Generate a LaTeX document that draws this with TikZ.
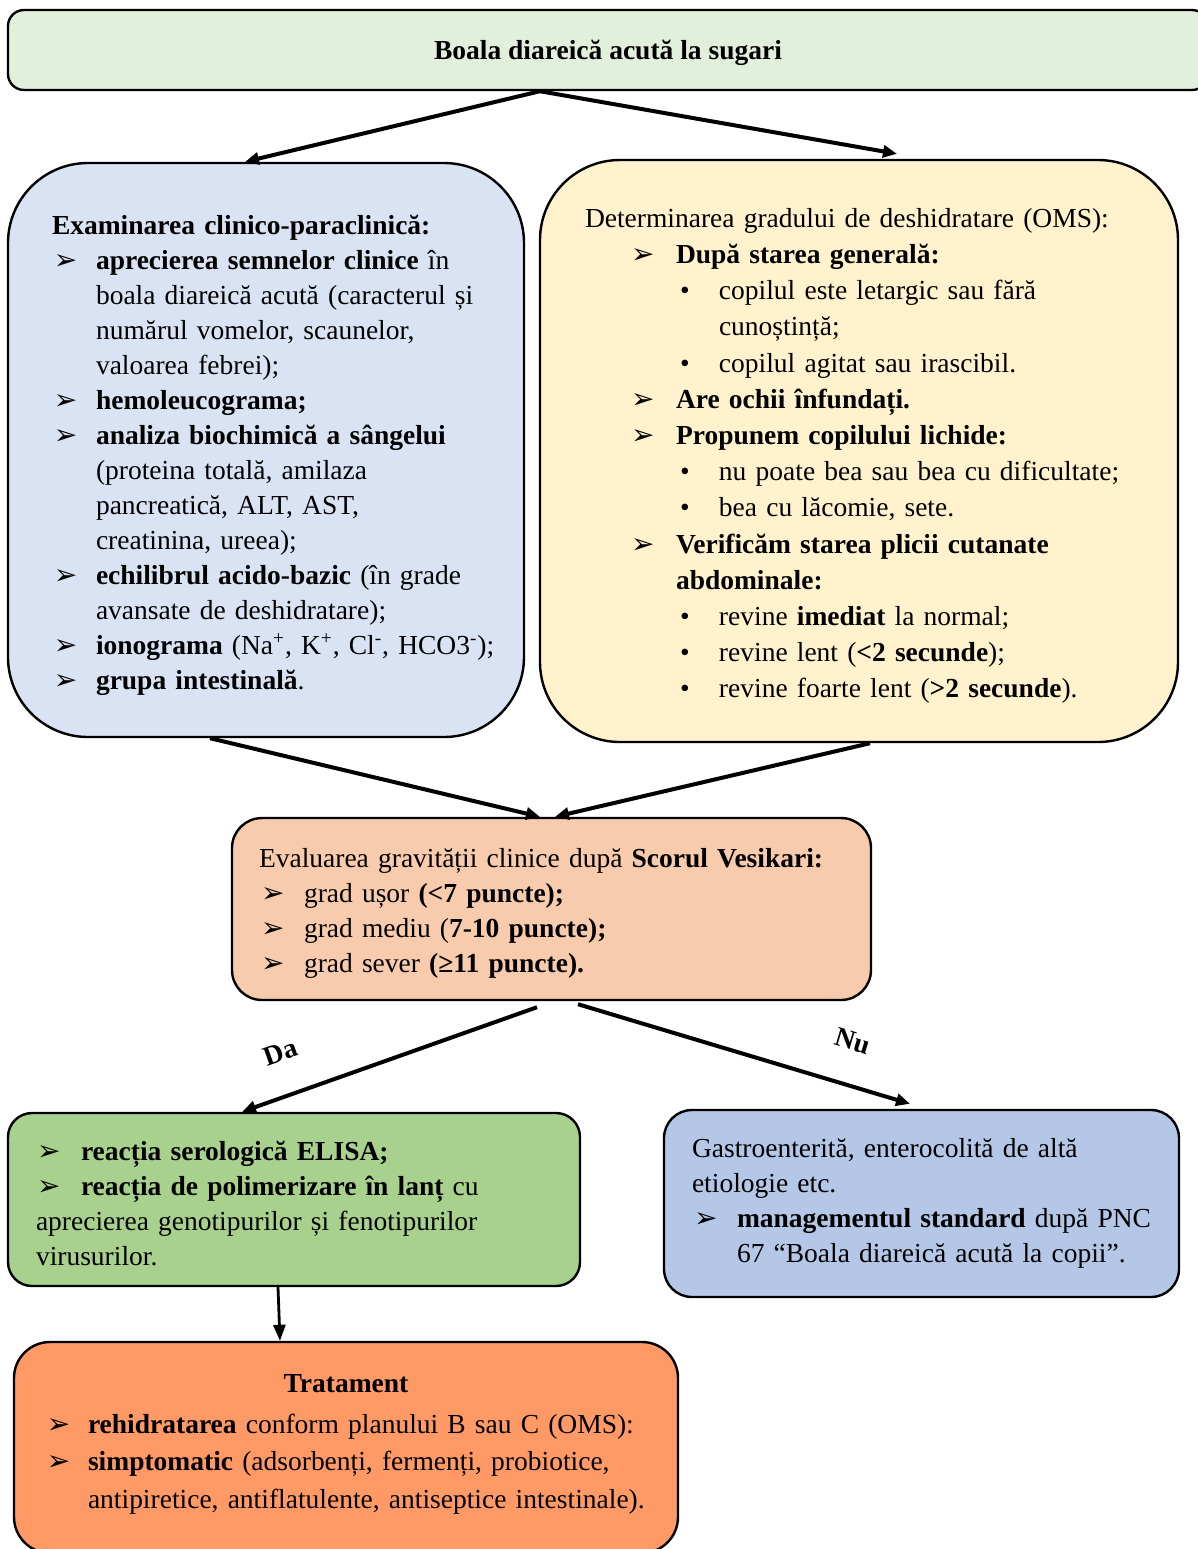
\documentclass[tikz,border=0pt]{standalone}
\usepackage{fontspec}
\setmainfont{Liberation Serif}
\newfontfamily\dingfont{DejaVu Sans}
\usepackage{tikz}
\usetikzlibrary{arrows.meta,positioning}

\definecolor{titlebg}{HTML}{E2EFDA}
\definecolor{exambg}{HTML}{DAE3F3}
\definecolor{dehydbg}{HTML}{FFF2CC}
\definecolor{scorebg}{HTML}{F8CBAD}
\definecolor{elisabg}{HTML}{A9D18E}
\definecolor{otherbg}{HTML}{B4C7E7}
\definecolor{treatbg}{HTML}{FF9966}

\newcommand{\arrbul}{{\dingfont\fontsize{14}{10}\selectfont ➢}}
\newcommand{\dotbul}{•}
% item with hanging indent: #1 hang, #2 bullet offset, #3 bullet
\newcommand{\hitem}[3]{\par\hangindent=#1\hangafter=1\noindent\makebox[#1][l]{\hspace*{#2}#3}}

\begin{document}
\begin{tikzpicture}[
    x=1pt, y=1pt,
    box/.style={draw=black, line width=1.2pt, align=left, inner xsep=4pt,
        font=\fontsize{13.75}{17.5}\selectfont},
    arrow/.style={-{Triangle[length=7pt,width=6pt]}, line width=2pt},
    lbl/.style={font=\fontsize{13.75}{16}\selectfont\bfseries, inner sep=1pt}
]
\useasboundingbox (0,0) rectangle (599,-774.5);
\clip (0,0) rectangle (599,-774.5);

% Boxes
\node[box, fill=titlebg, rounded corners=8pt, minimum width=600pt, minimum height=40pt, align=center, text depth=0pt]
    (title) at (304,-25) {\textbf{Boala diareică acută la sugari}};

\node[box, fill=exambg, rounded corners=40pt, minimum width=258pt, minimum height=287pt, text width=250pt]
    (exam) at (133,-225) {\leftskip=18pt
    \noindent\rule{0pt}{15.5pt}\textbf{Examinarea clinico-paraclinică:}
    \hitem{22pt}{1pt}{\arrbul}\textbf{aprecierea semnelor clinice} în\newline boala diareică acută (caracterul și\newline numărul vomelor, scaunelor,\newline valoarea febrei);
    \hitem{22pt}{1pt}{\arrbul}\textbf{hemoleucograma;}
    \hitem{22pt}{1pt}{\arrbul}\textbf{analiza biochimică a sângelui}\newline (proteina totală, amilaza\newline pancreatică, ALT, AST,\newline creatinina, ureea);
    \hitem{22pt}{1pt}{\arrbul}\textbf{echilibrul acido-bazic} (în grade\newline avansate de deshidratare);
    \hitem{22pt}{1pt}{\arrbul}\textbf{ionograma} (Na\textsuperscript{+}, K\textsuperscript{+}, Cl\textsuperscript{-}, HCO3\textsuperscript{-});
    \hitem{22pt}{1pt}{\arrbul}\textbf{grupa intestinală}.\par};

\node[box, fill=dehydbg, rounded corners=40pt, minimum width=319pt, minimum height=291pt, text width=311pt,
    font=\fontsize{13.75}{18.1}\selectfont]
    (dehyd) at (429.5,-225.5) {\leftskip=18.5pt
    \noindent\rule{0pt}{14.5pt}Determinarea gradului de deshidratare (OMS):
    \hitem{45.5pt}{23pt}{\arrbul}\textbf{După starea generală:}
    \hitem{67pt}{47.5pt}{\dotbul}copilul este letargic sau fără\newline cunoștință;
    \hitem{67pt}{47.5pt}{\dotbul}copilul agitat sau irascibil.
    \hitem{45.5pt}{23pt}{\arrbul}\textbf{Are ochii înfundați.}
    \hitem{45.5pt}{23pt}{\arrbul}\textbf{Propunem copilului lichide:}
    \hitem{67pt}{47.5pt}{\dotbul}nu poate bea sau bea cu dificultate;
    \hitem{67pt}{47.5pt}{\dotbul}bea cu lăcomie, sete.
    \hitem{45.5pt}{23pt}{\arrbul}\textbf{Verificăm starea plicii cutanate\newline abdominale:}
    \hitem{67pt}{47.5pt}{\dotbul}revine \textbf{imediat} la normal;
    \hitem{67pt}{47.5pt}{\dotbul}revine lent (\textbf{<2 secunde});
    \hitem{67pt}{47.5pt}{\dotbul}revine foarte lent (\textbf{>2 secunde}).\par};

\node[box, fill=scorebg, rounded corners=15pt, minimum width=319.5pt, minimum height=91pt, text width=311.5pt]
    (vesikari) at (275.75,-454.5) {\leftskip=9.5pt
    \noindent\rule{0pt}{13.5pt}Evaluarea gravității clinice după \textbf{Scorul Vesikari:}
    \hitem{22.5pt}{1pt}{\arrbul}grad ușor \textbf{(<7 puncte);}
    \hitem{22.5pt}{1pt}{\arrbul}grad mediu (\textbf{7-10 puncte);}
    \hitem{22.5pt}{1pt}{\arrbul}grad sever \textbf{(≥11 puncte).}\par};

\node[box, fill=elisabg, rounded corners=12pt, minimum width=286pt, minimum height=86.5pt, text width=278pt]
    (elisa) at (147,-599.75) {\leftskip=10pt
    \hitem{22.5pt}{0.5pt}{\arrbul}\textbf{reacția serologică ELISA;}
    \par\noindent\makebox[22.5pt][l]{\hspace*{0.5pt}\arrbul}\textbf{reacția de polimerizare în lanț} cu\newline aprecierea genotipurilor și fenotipurilor\newline virusurilor.\rule[-3.7pt]{0pt}{1pt}\par};

\node[box, fill=otherbg, rounded corners=14pt, minimum width=257.5pt, minimum height=93.5pt, text width=249.5pt]
    (other) at (460.75,-601.75) {\leftskip=10pt
    \noindent Gastroenterită, enterocolită de altă\newline etiologie etc.
    \hitem{22.5pt}{1pt}{\arrbul}\textbf{managementul standard} după PNC\newline 67 “Boala diareică acută la copii”.\par};

\node[box, fill=treatbg, rounded corners=18pt, minimum width=332pt, minimum height=105.5pt, text width=324pt,
    font=\fontsize{13.75}{18.75}\selectfont]
    (treat) at (173,-723.75) {{\centering\textbf{Tratament}\par}\vspace{1.75pt}
    \leftskip=12.5pt
    \hitem{20.5pt}{0pt}{\arrbul}\textbf{rehidratarea} conform planului B sau C (OMS):
    \hitem{20.5pt}{0pt}{\arrbul}\textbf{simptomatic} (adsorbenți, fermenți, probiotice,\newline antipiretice, antiflatulente, antiseptice intestinale).\rule[-6.5pt]{0pt}{1pt}\par};

% Connectors
\draw[arrow] ([xshift=-34pt]title.south) -- ([xshift=-10.5pt]exam.north);
\draw[arrow] ([xshift=-34pt]title.south) -- ([xshift=19pt,yshift=2.5pt]dehyd.north);
\draw[arrow] ([xshift=-28pt]exam.south) -- ([xshift=-5.75pt]vesikari.north);
\draw[arrow] ([xshift=5.5pt]dehyd.south) -- ([xshift=1.75pt]vesikari.north);
\draw[arrow] ([xshift=-7.25pt,yshift=-3pt]vesikari.south) -- node[lbl, pos=0.82, sloped, above=15pt] {Da} ([xshift=-26pt]elisa.north);
\draw[arrow] ([xshift=13.25pt,yshift=-1.5pt]vesikari.south) -- node[lbl, pos=0.79, sloped, above=15pt] {Nu} ([xshift=-5.75pt,yshift=2.5pt]other.north);
\draw[-{Triangle[length=8pt,width=6pt]}, line width=1.4pt] ([xshift=-8pt]elisa.south) -- ([xshift=-33pt]treat.north);

\end{tikzpicture}
\end{document}
